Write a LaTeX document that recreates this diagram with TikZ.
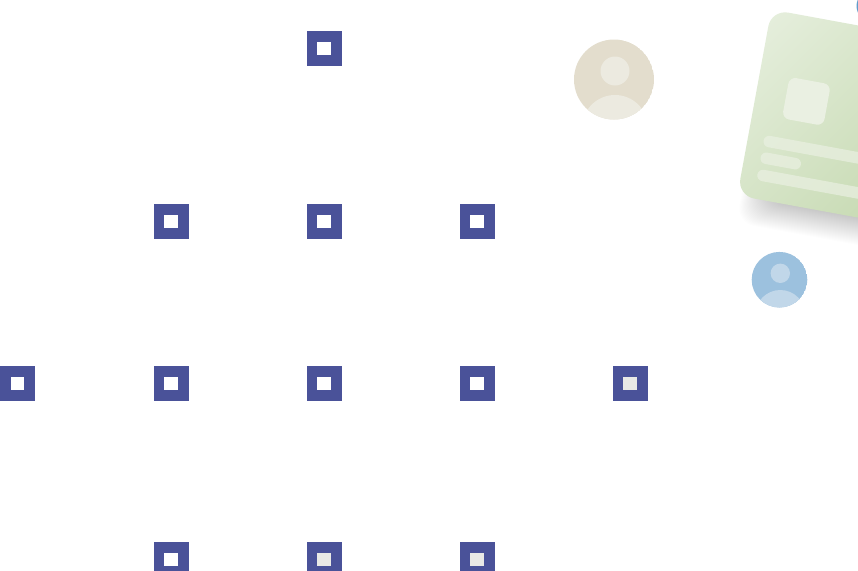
\documentclass[tikz,border=0pt]{standalone}
\definecolor{sqblue}{HTML}{4A5299}
\definecolor{sqgrey}{HTML}{E9E9E6}
\definecolor{beige}{HTML}{E3DDCD}
\definecolor{beigel}{HTML}{ECEAE0}
\definecolor{skyb}{HTML}{9CC1DE}
\definecolor{skyl}{HTML}{C1D7E9}
\definecolor{cardA}{HTML}{E8F0E0}
\definecolor{cardB}{HTML}{BFD5A8}
\definecolor{cardL}{HTML}{EAF0E2}
\definecolor{cornerb}{HTML}{5F9CCB}
\tikzset{
  outersq/.style={fill=sqblue,draw=none,minimum size=35pt,inner sep=0pt,outer sep=0pt,rectangle},
}
\newcommand{\marker}[4]{%
  \node[outersq] (#1) at (#2,#3) {};
  \fill[#4] (#2-6.7,#3-6.7) rectangle (#2+6.7,#3+6.7);
}
\begin{document}
\begin{tikzpicture}[x=1pt,y=-1pt]
\useasboundingbox (0,0) rectangle (858,570);
\clip (0,0) rectangle (858,570);
\fill[white] (0,0) rectangle (858,570);
\marker{a}{324}{48.5}{white}
\marker{b}{171}{221.5}{white}
\marker{c}{324}{221.5}{white}
\marker{d}{477}{221.5}{white}
\marker{e}{17.7}{383.5}{white}
\marker{f}{171}{383.5}{white}
\marker{g}{324}{383.5}{white}
\marker{h}{477}{383.5}{white}
\marker{i}{630}{383.5}{sqgrey}
\marker{j}{171}{559.5}{white}
\marker{k}{324}{559.5}{sqgrey}
\marker{l}{477}{559.5}{sqgrey}
% beige avatar
\begin{scope}
\clip (614,79.5) circle (40);
\fill[beige] (614,79.5) circle (40);
\fill[beigel] (615,71) circle (14.5);
\fill[beigel] (615,128) circle (33);
\end{scope}
% blue avatar
\begin{scope}
\clip (779.5,279.7) circle (27.8);
\fill[skyb] (779.5,279.7) circle (27.8);
\fill[skyl] (780.3,273.3) circle (9.7);
\fill[skyl] (780.3,315) circle (25);
\end{scope}
% corner avatar
\fill[cornerb] (872,6) circle (15.5);
% card
\begin{scope}[shift={(771.4,9.55)},rotate=-10.4]
\foreach \k in {0,...,27}{
  \fill[black,opacity=0.009,rounded corners=18pt] (4+\k*1.0,60) rectangle (200,216-\k*1.0);
}
\begin{scope}
\clip[rounded corners=17pt] (0,0) rectangle (190,189);
\shade[left color=cardA,right color=cardB,shading angle=45] (-40,-30) rectangle (230,220);
\end{scope}
\fill[cardL,rounded corners=7pt] (30,63) rectangle (72,105);
\fill[cardL,opacity=.7,rounded corners=5.7pt] (16,124.5) rectangle (190,136);
\fill[cardL,opacity=.7,rounded corners=5.7pt] (16,141.5) rectangle (57,153);
\fill[cardL,opacity=.7,rounded corners=5.7pt] (16,159) rectangle (190,170.5);
\end{scope}
\end{tikzpicture}
\end{document}
